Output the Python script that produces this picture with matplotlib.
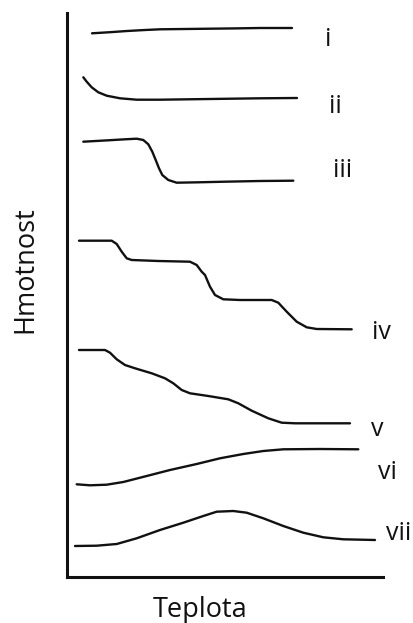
import matplotlib
matplotlib.use("Agg")
import matplotlib.pyplot as plt

plt.rcParams['font.family'] = ['Open Sans', 'DejaVu Sans']

# Schematic thermogravimetric curves (arbitrary units; y grows downward)
i_t = [92, 110, 127, 145, 160, 185, 210, 235, 260, 292]
i_m = [33.3, 32.2, 31, 30, 29.3, 29, 28.7, 28.4, 28, 28]

ii_t = [83.3, 86.7, 91.7, 98.3, 106.7, 120, 136.7, 160, 210, 260, 297]
ii_m = [77.3, 81.7, 87.3, 92.3, 95.7, 98.3, 99.7, 99.7, 99, 98.3, 98]

iii_t = [83.3, 108.3, 125, 136.7, 143.3, 148.3, 152.3, 155.7, 159, 162.3,
         168.3, 176.7, 198.3, 225, 260, 293.3]
iii_m = [141.7, 140.3, 139.3, 138.7, 140, 144.3, 151.7, 160, 168.3, 175,
         180, 182.7, 182.3, 181.7, 181, 180.7]

iv_t = [79, 111.7, 116.7, 121.7, 126.7, 131.7, 158.3, 190, 196.7, 201.7, 205,
        210, 215, 223.3, 240, 271.7, 278.3, 286.7, 296.7, 306.7, 316.7, 351.7]
iv_m = [240.7, 240.7, 244, 251.7, 258.3, 260, 261, 261.7, 265, 271.7, 275,
        286.7, 295, 299.3, 300, 300, 302.7, 311.7, 321.7, 327.3, 329, 329.3]

v_t = [79, 105, 110, 116.7, 125, 135, 151.7, 165, 173.3, 181.7, 190, 208.3,
       228.3, 238.3, 251.7, 268.3, 281.7, 295, 350]
v_m = [350, 350, 352.7, 359.3, 365, 368.3, 373.3, 378.3, 383.3, 390, 393.3,
       396, 399.3, 403.3, 410.7, 418.3, 422.7, 423.3, 423.3]

vi_t = [76.7, 90, 106.7, 123.3, 146.7, 170, 196.7, 220, 243.3, 263.3, 283.3,
        320, 358.3]
vi_m = [484.3, 485.3, 484.7, 482, 476, 470, 464, 458.3, 454, 451, 449.3,
        449, 449.3]

vii_t = [75, 96.7, 116.7, 136.7, 160, 183.3, 203.3, 216.7, 233.3, 246.7,
         263.3, 283.3, 303.3, 323.3, 343.3, 375]
vii_m = [546, 545.7, 544, 538.3, 530, 522.7, 516, 511.7, 511, 512.7,
         518.3, 526, 532.7, 537.3, 539.3, 540]

labels = ['i', 'ii', 'iii', 'iv', 'v', 'vi', 'vii']
label_x = [325, 329, 333, 372, 371, 378, 386]
label_y = [46, 113, 177, 339, 436, 479, 540]

W, H = 414, 623
fig = plt.figure(figsize=(W / 100, H / 100), dpi=100)
x0, x1, y0, y1 = 67, 383, 13, 577
ax = fig.add_axes([x0 / W, (H - y1) / H, (x1 - x0) / W, (y1 - y0) / H])
ax.set_xlim(x0, x1)
ax.set_ylim(y1, y0)

series = [(i_t, i_m), (ii_t, ii_m), (iii_t, iii_m), (iv_t, iv_m),
          (v_t, v_m), (vi_t, vi_m), (vii_t, vii_m)]
for t, m in series:
    ax.plot(t, m, color='#111111', lw=1.7, solid_joinstyle='round',
            solid_capstyle='round', clip_on=False)

for lab, lx, ly in zip(labels, label_x, label_y):
    ax.text(lx, ly, lab, fontsize=18, ha='left', va='baseline', color='#111111')

for s in ['top', 'right']:
    ax.spines[s].set_visible(False)
for s in ['left', 'bottom']:
    ax.spines[s].set_linewidth(2.2)
    ax.spines[s].set_color('#111111')
ax.set_xticks([])
ax.set_yticks([])

ax.text(200, 617, 'Teplota', fontsize=19.5, ha='center', va='baseline',
        color='#111111')
ax.text(25.5, 270, 'Hmotnost', fontsize=19.5, ha='center', va='center',
        rotation=90, color='#111111')

fig.savefig('out.png', dpi=100, facecolor='white')
